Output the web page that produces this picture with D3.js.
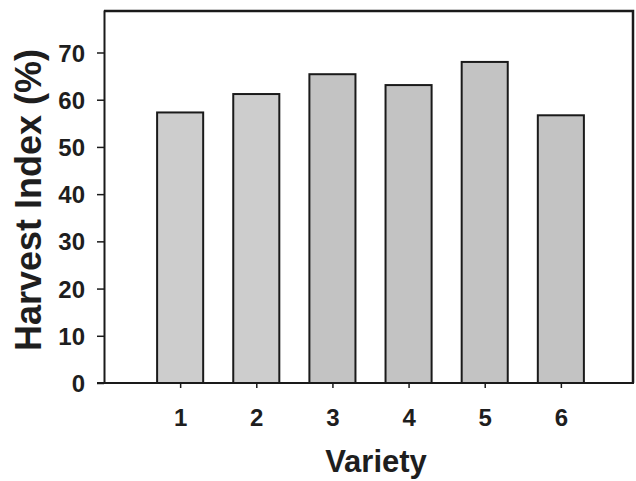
<!DOCTYPE html>
<html>
<head>
<meta charset="utf-8">
<script src="https://cdn.jsdelivr.net/npm/d3@7"></script>
<style>
  body { margin: 0; background: #fff; }
  svg { display: block; }
  text { font-family: "Liberation Sans", Arial, sans-serif; font-weight: bold; fill: #1e1e1e; }
</style>
</head>
<body>
<div id="chart"></div>
<script>
// data
const varieties = [1, 2, 3, 4, 5, 6];
const harvestIndex = [57.3, 61.2, 65.4, 63.1, 68.0, 56.7];
const yTicks = [0, 10, 20, 30, 40, 50, 60, 70];

const width = 636, height = 481;
const margin = { top: 10, right: 2, bottom: 98, left: 104 };
const innerW = width - margin.left - margin.right;
const innerH = height - margin.top - margin.bottom;

const svg = d3.select("#chart").append("svg")
    .attr("width", width)
    .attr("height", height);

const g = svg.append("g")
    .attr("transform", `translate(${margin.left},${margin.top})`);

// x spans seven slots, varieties sit on 1..6
const x = d3.scaleLinear().domain([0, 7]).range([0, innerW + 3]);
const y = d3.scaleLinear().domain([0, 79]).range([innerH, 0]);
const barW = x(0.605) - x(0);

// plot frame: top and right edges
g.append("path")
    .attr("class", "frame")
    .attr("d", d3.line()([[0, y(79) + 1], [x(7) - 4, y(79) + 1], [x(7) - 4, y(0)]]))
    .attr("fill", "none")
    .attr("stroke", "#1a1a1a")
    .attr("stroke-width", 2.5);

// bars
g.selectAll(".bar")
    .data(varieties)
    .join("rect")
    .attr("class", "bar")
    .attr("x", (d) => x(d) - barW / 2)
    .attr("y", (d, i) => y(harvestIndex[i]))
    .attr("width", barW)
    .attr("height", (d, i) => y(0) - y(harvestIndex[i]))
    .attr("fill", (d, i) => i < 2 ? "#cdcdcd" : "#c3c3c3")
    .attr("stroke", "#1a1a1a")
    .attr("stroke-width", 2);

// y axis
const yAxis = g.append("g")
    .call(d3.axisLeft(y).tickValues(yTicks).tickSize(7).tickPadding(12).tickSizeOuter(0));
yAxis.select(".domain").attr("stroke", "#1a1a1a").attr("stroke-width", 2);
yAxis.selectAll(".tick line").attr("stroke", "#1a1a1a").attr("stroke-width", 1.5);
yAxis.selectAll(".tick text")
    .style("font-size", "24px")
    .attr("dy", "0.36em");

// x axis
const xAxis = g.append("g")
    .attr("transform", `translate(0,${innerH})`)
    .call(d3.axisBottom(x).tickValues(varieties).tickSize(5).tickPadding(21)
        .tickFormat(d3.format("d")));
xAxis.select(".domain").attr("d", `M-7,0H${innerW}`)
    .attr("stroke", "#1a1a1a").attr("stroke-width", 2);
xAxis.selectAll(".tick line").attr("stroke", "#1a1a1a").attr("stroke-width", 1.5);
xAxis.selectAll(".tick text")
    .style("font-size", "24px");

// axis titles
svg.append("text")
    .attr("transform", "translate(41,200) rotate(-90)")
    .attr("text-anchor", "middle")
    .style("font-size", "36px")
    .text("Harvest Index (%)");

svg.append("text")
    .attr("x", 376)
    .attr("y", 472)
    .attr("text-anchor", "middle")
    .style("font-size", "31px")
    .text("Variety");
</script>
</body>
</html>
